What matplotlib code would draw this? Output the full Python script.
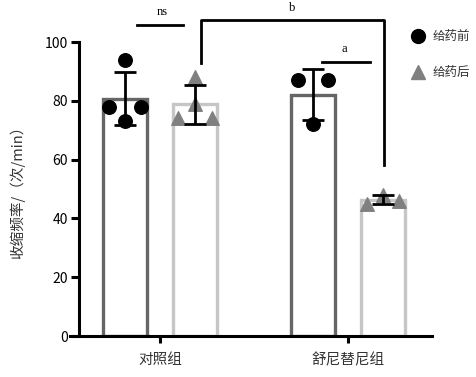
import matplotlib
matplotlib.use("Agg")
import matplotlib.pyplot as plt
import numpy as np
from matplotlib.lines import Line2D

plt.rcParams['font.family'] = ['Noto Sans CJK SC', 'DejaVu Sans']

groups = ["对照组", "舒尼替尼组"]
series = ["给药前", "给药后"]

# individual values
pre_values = [[94, 78, 78, 73], [87, 87, 72]]
post_values = [[88, 79, 74, 74], [45, 48, 46]]
pre_jitter = [[0, -0.085, 0.085, 0], [-0.08, 0.08, 0]]
post_jitter = [[0, 0, -0.09, 0.09], [-0.085, 0, 0.085]]

yticks = [0, 20, 40, 60, 80, 100]

dark = "#666666"
light = "#c6c6c6"
tri = "#808080"

fig = plt.figure(figsize=(4.76, 3.77), dpi=100)
ax = fig.add_axes([70 / 476, 41 / 377, 362 / 476, 294 / 377])

x = np.arange(len(groups))
off = 0.186
w = 0.234

for i in range(len(groups)):
    for vals, jit, dx, ec, mk, fc in [
        (pre_values[i], pre_jitter[i], -off, dark, "o", "black"),
        (post_values[i], post_jitter[i], off, light, "^", tri),
    ]:
        m = np.mean(vals)
        sd = np.std(vals, ddof=1)
        ax.bar(x[i] + dx, m, width=w, facecolor="white", edgecolor=ec,
               linewidth=2.4, zorder=2)
        ax.scatter(x[i] + dx + np.array(jit), vals, marker=mk, s=95,
                   color=fc, zorder=3, clip_on=False)
        ax.errorbar(x[i] + dx, m, yerr=sd, color="black", capsize=8,
                    elinewidth=2, capthick=2, zorder=4)

# significance marks
ax.plot([-0.12, 0.12], [105.8, 105.8], color="black", lw=2, clip_on=False)
ax.text(0.01, 108, "ns", ha="center", va="bottom", fontsize=9,
        family="Liberation Serif")
ax.plot([0.218, 0.218, 1.19, 1.19], [93, 107.5, 107.5, 58], color="black",
        lw=2, clip_on=False)
ax.text(0.705, 109.5, "b", ha="center", va="bottom", fontsize=9,
        family="Liberation Serif")
ax.plot([0.86, 1.115], [93.2, 93.2], color="black", lw=2, clip_on=False)
ax.text(0.98, 95.5, "a", ha="center", va="bottom", fontsize=9,
        family="Liberation Serif")

ax.set_xlim(-0.479, 1.447)
ax.set_ylim(0, 100)
ax.set_yticks(yticks)
ax.set_yticklabels([str(t) for t in yticks], family="Liberation Serif",
                   fontsize=11, color="#333333")
ax.set_xticks(x)
ax.set_xticklabels(groups, fontsize=10.5, color="#333333")
ax.set_ylabel("收缩频率/（次/min）", fontsize=10.5, color="#333333")
ax.yaxis.set_label_coords(-0.125, 0.5)

for s in ["top", "right"]:
    ax.spines[s].set_visible(False)
ax.spines["left"].set_position(("axes", 9 / 362))
ax.spines["left"].set_linewidth(2.2)
ax.spines["bottom"].set_linewidth(2.2)
ax.tick_params(axis="y", length=6, width=2.2, pad=2)
ax.tick_params(axis="x", length=5, width=2.2, pad=7)

# legend drawn by hand, to the right of the plot
leg_marks = [("o", "black"), ("^", tri)]
for k, (name, (mk, col)) in enumerate(zip(series, leg_marks)):
    yy = 1 - (36 + 36 * k) / 377
    fig.add_artist(Line2D([418 / 476], [yy], marker=mk, color=col, ls="",
                          markersize=10, transform=fig.transFigure))
    fig.text(433 / 476, yy, name, fontsize=9, va="center", ha="left",
             color="#333333")

fig.savefig("out.png", dpi=100)
